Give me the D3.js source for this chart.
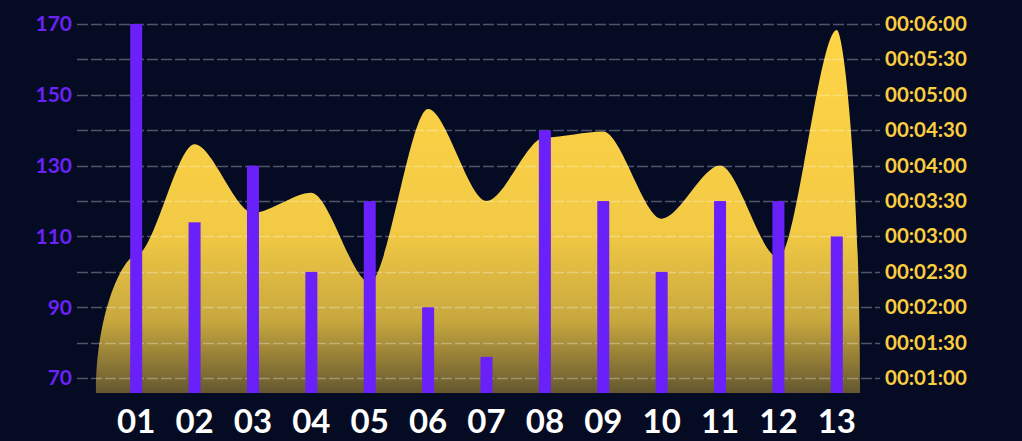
<!DOCTYPE html>
<html>
<head>
<meta charset="utf-8">
<script src="https://cdn.jsdelivr.net/npm/d3@7"></script>
<style>
  html, body { margin: 0; padding: 0; background: #050b22; }
  svg { display: block; }
</style>
</head>
<body>
<script>
// Chart data
const categories = ['01', '02', '03', '04', '05', '06', '07', '08', '09', '10', '11', '12', '13']
const barValues = [170, 114, 130, 100, 120, 90, 76, 140, 120, 100, 120, 120, 110]
// durations in seconds (right axis)
const durations = [164, 258, 200, 217, 141, 288, 210, 264, 269, 195, 240, 162, 355]

const leftTicks = [70, 90, 110, 130, 150, 170]
const gridTicks = [70, 80, 90, 100, 110, 120, 130, 140, 150, 160, 170]
const rightTicks = [60, 90, 120, 150, 180, 210, 240, 270, 300, 330, 360]

const width = 1022
const height = 441

const plot = { left: 77, right: 880, top: 24, bottom: 393 }

// smooth curve: horizontal handles at every point,
// the two end segments leave / reach the baseline almost vertically
class SmoothCurve {
  constructor(context) {
    this._context = context
  }
  areaStart() { this._line = 0 }
  areaEnd() { this._line = NaN }
  lineStart() { this._pts = [] }
  point(x, y) { this._pts.push([+x, +y]) }
  lineEnd() {
    const p = this._pts
    const c = this._context
    const n = p.length
    if (n) {
      if (this._line) c.lineTo(p[0][0], p[0][1])
      else c.moveTo(p[0][0], p[0][1])
      for (let i = 1; i < n; i++) {
        const [x0, y0] = p[i - 1]
        const [x1, y1] = p[i]
        const k = (x1 - x0) * 0.3
        let c1 = [x0 + k, y0]
        let c2 = [x1 - k, y1]
        if (i === 1) c1 = [x0, y0 + (y1 - y0) * 0.6]
        if (i === n - 1) c2 = [x1, y1 - (y1 - y0) * 0.6]
        c.bezierCurveTo(c1[0], c1[1], c2[0], c2[1], x1, y1)
      }
    }
    if (this._line || (this._line !== 0 && n === 1)) c.closePath()
    this._line = 1 - this._line
  }
}
const curveSmooth = context => new SmoothCurve(context)

const svg = d3.select('body')
  .append('svg')
  .attr('width', width)
  .attr('height', height)

svg.append('rect')
  .attr('width', width)
  .attr('height', height)
  .attr('fill', '#050b22')

const y = d3.scaleLinear()
  .domain([65.8, 170])
  .range([plot.bottom, plot.top])

const yRight = d3.scaleLinear()
  .domain([47.3, 360])
  .range([plot.bottom, plot.top])

const x = d3.scaleBand()
  .domain(categories)
  .range([107, 866])

const cx = d => x(d) + x.bandwidth() / 2

// gradient for the area
const defs = svg.append('defs')
const grad = defs.append('linearGradient')
  .attr('id', 'areaGrad')
  .attr('gradientUnits', 'userSpaceOnUse')
  .attr('x1', 0).attr('x2', 0)
  .attr('y1', yRight(355)).attr('y2', plot.bottom)

grad.selectAll('stop')
  .data([
    { o: 0, op: 1 },
    { o: 0.55, op: 0.95 },
    { o: 0.8, op: 0.78 },
    { o: 1, op: 0.38 }
  ])
  .enter()
  .append('stop')
  .attr('offset', d => d.o)
  .attr('stop-color', '#ffd446')
  .attr('stop-opacity', d => d.op)

// area points: start / end on the baseline, just inside the plot
const areaPoints = [{ px: plot.left + 19, v: yRight.domain()[0] }]
  .concat(categories.map((c, i) => ({ px: cx(c), v: durations[i] })))
  .concat([{ px: plot.right - 20, v: yRight.domain()[0] }])

const area = d3.area()
  .x(d => d.px)
  .y0(plot.bottom)
  .y1(d => yRight(d.v))
  .curve(curveSmooth)

svg.append('path')
  .datum(areaPoints)
  .attr('d', area)
  .attr('fill', 'url(#areaGrad)')

// grid lines
svg.append('g')
  .selectAll('line')
  .data(gridTicks)
  .enter()
  .append('line')
  .attr('x1', plot.left)
  .attr('x2', plot.right)
  .attr('y1', d => Math.round(y(d)) + 0.5)
  .attr('y2', d => Math.round(y(d)) + 0.5)
  .style('stroke', 'rgba(255,255,255,0.3)')
  .style('stroke-width', 1.5)
  .style('stroke-dasharray', '11 3')

// bars
svg.append('g')
  .selectAll('rect')
  .data(categories)
  .enter()
  .append('rect')
  .attr('x', d => cx(d) - 6)
  .attr('width', 12)
  .attr('y', (d, i) => y(barValues[i]))
  .attr('height', (d, i) => plot.bottom - y(barValues[i]))
  .attr('fill', '#6a20f8')

// left axis
const leftAxis = svg.append('g')
  .attr('transform', `translate(${plot.left - 5},0)`)
  .call(d3.axisLeft(y).tickValues(leftTicks).tickSize(0).tickPadding(0))
leftAxis.select('.domain').remove()
leftAxis.selectAll('text')
  .attr('fill', '#6a22f6')
  .style('font-family', 'Lato, sans-serif')
  .style('font-weight', 'bold')
  .style('font-size', '21px')

// right axis
const fmt = s => {
  const m = Math.floor(s / 60)
  const sec = s % 60
  return `00:${String(m).padStart(2, '0')}:${String(sec).padStart(2, '0')}`
}
const rightAxis = svg.append('g')
  .attr('transform', `translate(${plot.right + 5},0)`)
  .call(d3.axisRight(yRight).tickValues(rightTicks).tickFormat(fmt).tickSize(0).tickPadding(0))
rightAxis.select('.domain').remove()
rightAxis.selectAll('text')
  .attr('fill', '#fbcd41')
  .style('font-family', 'Lato, sans-serif')
  .style('font-weight', 'bold')
  .style('font-size', '20.5px')

// bottom axis
const bottomAxis = svg.append('g')
  .attr('transform', `translate(0,${plot.bottom})`)
  .call(d3.axisBottom(x).tickSize(0).tickPadding(0))
bottomAxis.select('.domain').remove()
bottomAxis.selectAll('text')
  .attr('y', 40)
  .attr('dy', 0)
  .attr('fill', '#ffffff')
  .style('font-family', 'Lato, sans-serif')
  .style('font-weight', 'bold')
  .style('font-size', '33px')
</script>
</body>
</html>
